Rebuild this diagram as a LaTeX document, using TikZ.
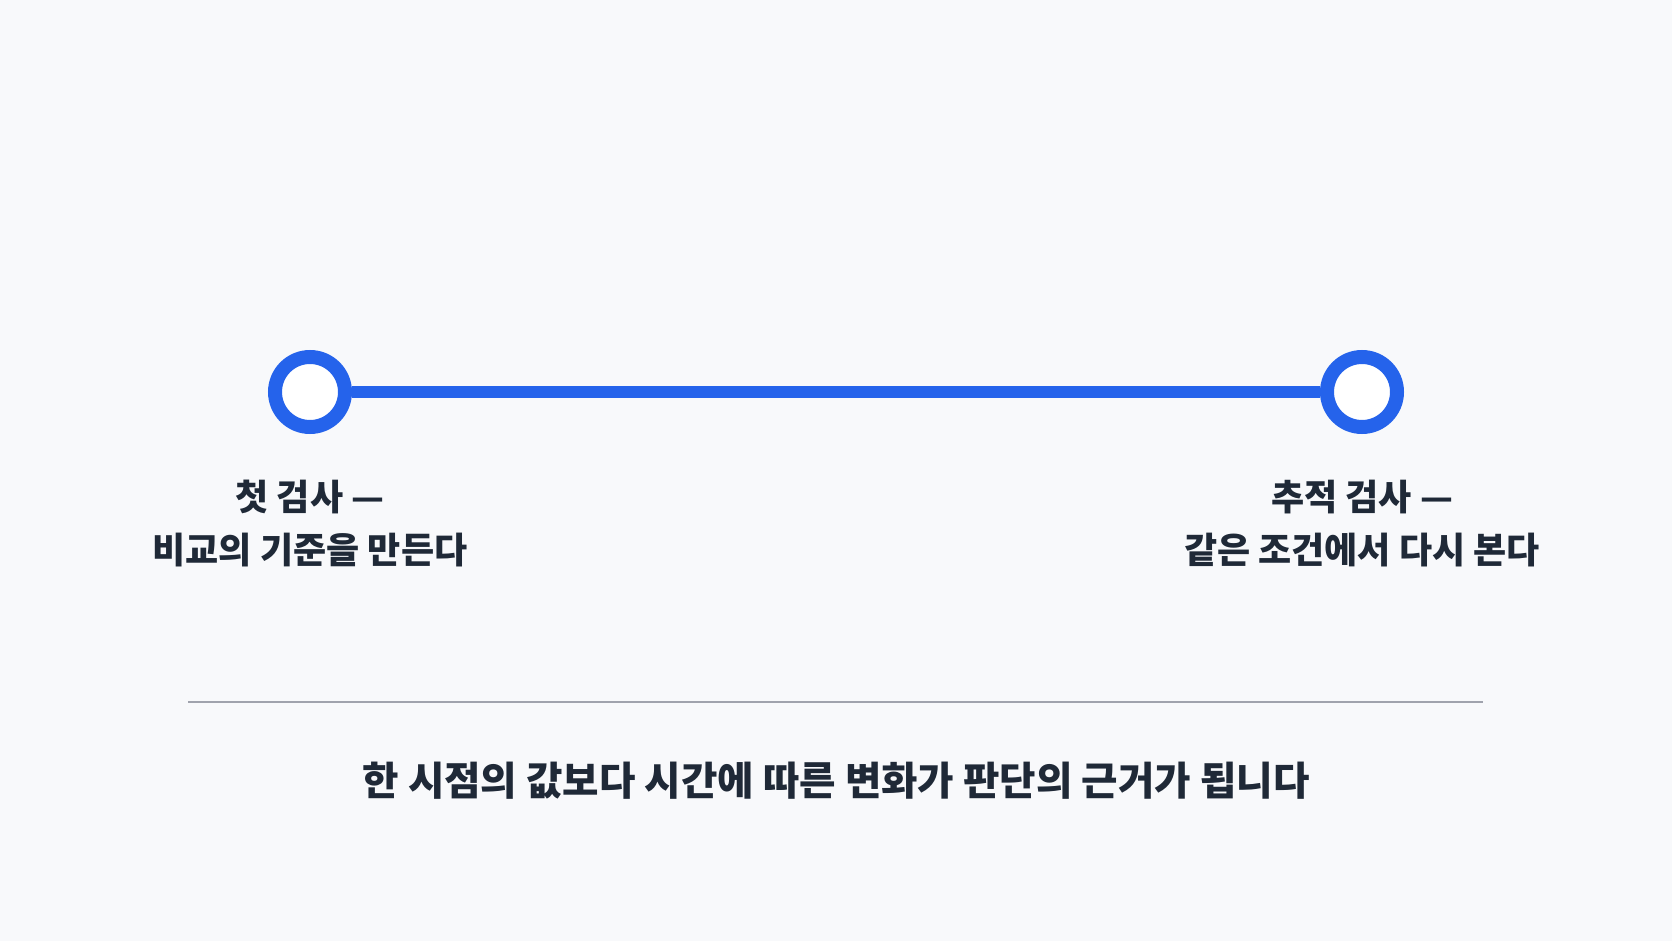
\documentclass[tikz,border=0pt]{standalone}
\usepackage{fontspec}
\setmainfont{Noto Sans CJK KR}
\usetikzlibrary{positioning}
\definecolor{paper}{HTML}{F8F9FB}
\definecolor{tealblue}{HTML}{2563EB}
\definecolor{ink}{HTML}{1F2937}
\definecolor{rulegray}{HTML}{A0A3AD}
\tikzset{
    %Define style for the two check points
    stop/.style={
           circle,
           draw=tealblue,
           fill=white,
           line width=7pt,
           minimum size=35pt,
           inner sep=0pt},
    %Define style for the captions under the points
    caption/.style={
           text=ink,
           font=\bfseries\fontsize{18pt}{26.5pt}\selectfont,
           align=center,
           inner sep=0pt},
    % Define line styles
    track/.style={
           draw=tealblue,
           line width=6pt},
    rule/.style={
           draw=rulegray,
           line width=1pt}
}

\begin{document}
\begin{tikzpicture}[x=0.5pt, y=-0.5pt, node distance=23pt]
  \fill[paper] (0,0) rectangle (1672,941);
  \node[stop] (first) at (310,392) {};
  \node[stop] (second) at (1362,392) {};
  \draw[track] (first) -- (second);
  \node[caption,below=of first] (firstnote) {첫 검사 —\\비교의 기준을 만든다};
  \node[caption,below=of second] (secondnote) {추적 검사 —\\같은 조건에서 다시 본다};
  \coordinate (ruleleft) at (188,702);
  \coordinate (ruleright) at (1483,702);
  \draw[rule] (ruleleft) -- (ruleright);
  \node[caption,font=\bfseries\fontsize{19.8pt}{24pt}\selectfont] (summary) at (836,781)
    {한 시점의 값보다 시간에 따른 변화가 판단의 근거가 됩니다};
\end{tikzpicture}
\end{document}
